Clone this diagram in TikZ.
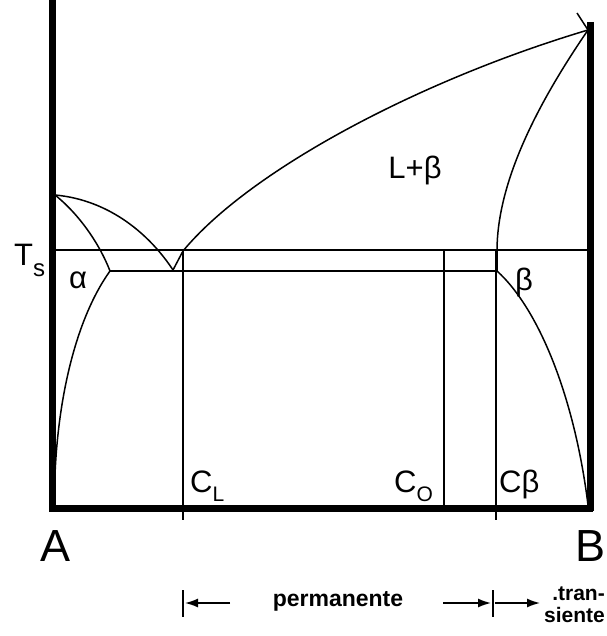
\documentclass[tikz,border=0pt]{standalone}
\usepackage{fontspec}
\setmainfont{Liberation Sans}
\usetikzlibrary{arrows.meta}
\begin{document}
\begin{tikzpicture}[x=1pt,y=-1pt,
  fine/.style={line width=1.5pt},
  axis/.style={line width=7pt},
  lbl/.style={font=\fontsize{31}{31}\selectfont, inner sep=0pt},
  big/.style={font=\fontsize{45}{45}\selectfont, inner sep=0pt},
  note/.style={font=\fontsize{23}{23}\selectfont\bfseries, inner sep=0pt},
  tip/.style={-{Latex[length=13pt,width=9pt]}}]
\useasboundingbox (0,0) rectangle (606,636);
% key points
\coordinate (Atop) at (52,0);
\coordinate (Abot) at (52,508);
\coordinate (Btop) at (590,22);
\coordinate (Bbot) at (590,508);
\coordinate (Tl) at (55,250);
\coordinate (Tr) at (590,250);
\coordinate (Am) at (55,195);
\coordinate (Bm) at (588,30);
\coordinate (Ae) at (110,271);
\coordinate (Be) at (497,271);
\coordinate (Eu) at (173,270);
\coordinate (Lq) at (183,251);
\coordinate (Bs) at (497,251);
% axes
\draw[axis] (Atop) -- (52,511);
\draw[axis] (49,508) -- (593,508);
\draw[axis] (Btop) -- (590,511);
% isotherms
\draw[fine] (Tl) -- (Tr);
\draw[fine] (Ae) -- (Be);
% composition verticals
\coordinate (CLt) at (183,251); \coordinate (CLb) at (183,520);
\coordinate (COt) at (444,251); \coordinate (COb) at (444,508);
\coordinate (CBt) at (496,251); \coordinate (CBb) at (496,520);
\draw[fine] (CLt) -- (CLb);
\draw[fine] (COt) -- (COb);
\draw[fine] (CBt) -- (CBb);
% alpha side
\draw[fine] (Am) .. controls (110,200) and (150,235) .. (Eu);
\draw[fine] (Am) .. controls (80,215) and (100,245) .. (Ae);
\draw[fine] (Ae) .. controls (75,320) and (58,400) .. (55,475);
% liquidus
\draw[fine] (Eu) -- (Lq) .. controls (250,170) and (420,80) .. (Bm);
\draw[fine] (577,13) -- (Bm);
% beta side
\draw[fine] (Bm) .. controls (540,100) and (497,180) .. (Bs) -- (Be);
\draw[fine] (Be) .. controls (540,310) and (575,400) .. (588,505);
% labels
\node[lbl] (lb) at (415,170) {L+β};
\node[lbl, anchor=west] (ts) at (14,260) {T\raisebox{-11pt}{\fontsize{24}{24}\selectfont s}};
\node[lbl] (al) at (78,280) {α};
\node[lbl] (be) at (524,282) {β};
\node[lbl, anchor=west] (cl) at (190,486) {C\raisebox{-9pt}{\fontsize{21}{21}\selectfont L}};
\node[lbl, anchor=west] (co) at (394,486) {C\raisebox{-9pt}{\fontsize{21}{21}\selectfont O}};
\node[lbl, anchor=west] (cb) at (499,484) {Cβ};
\node[big] (na) at (56,546) {A};
\node[big] (nb) at (590,546) {B};
% bottom legend
\coordinate (b1t) at (183,590); \coordinate (b1b) at (183,617);
\coordinate (b2t) at (493,590); \coordinate (b2b) at (493,617);
\draw[fine] (b1t) -- (b1b);
\draw[fine] (b2t) -- (b2b);
\coordinate (a1s) at (230,603); \coordinate (a1e) at (185,603);
\coordinate (a2s) at (443,603); \coordinate (a2e) at (491,603);
\coordinate (a3s) at (495,603); \coordinate (a3e) at (540,603);
\draw[fine,tip] (a1s) -- (a1e);
\draw[fine,tip] (a2s) -- (a2e);
\draw[fine,tip] (a3s) -- (a3e);
\node[note] (perm) at (338,601) {permanente};
\node[note, anchor=north east, align=right, font=\fontsize{21}{22}\selectfont\bfseries] (tr) at (605,587) {.tran-\\siente};
\end{tikzpicture}
\end{document}
